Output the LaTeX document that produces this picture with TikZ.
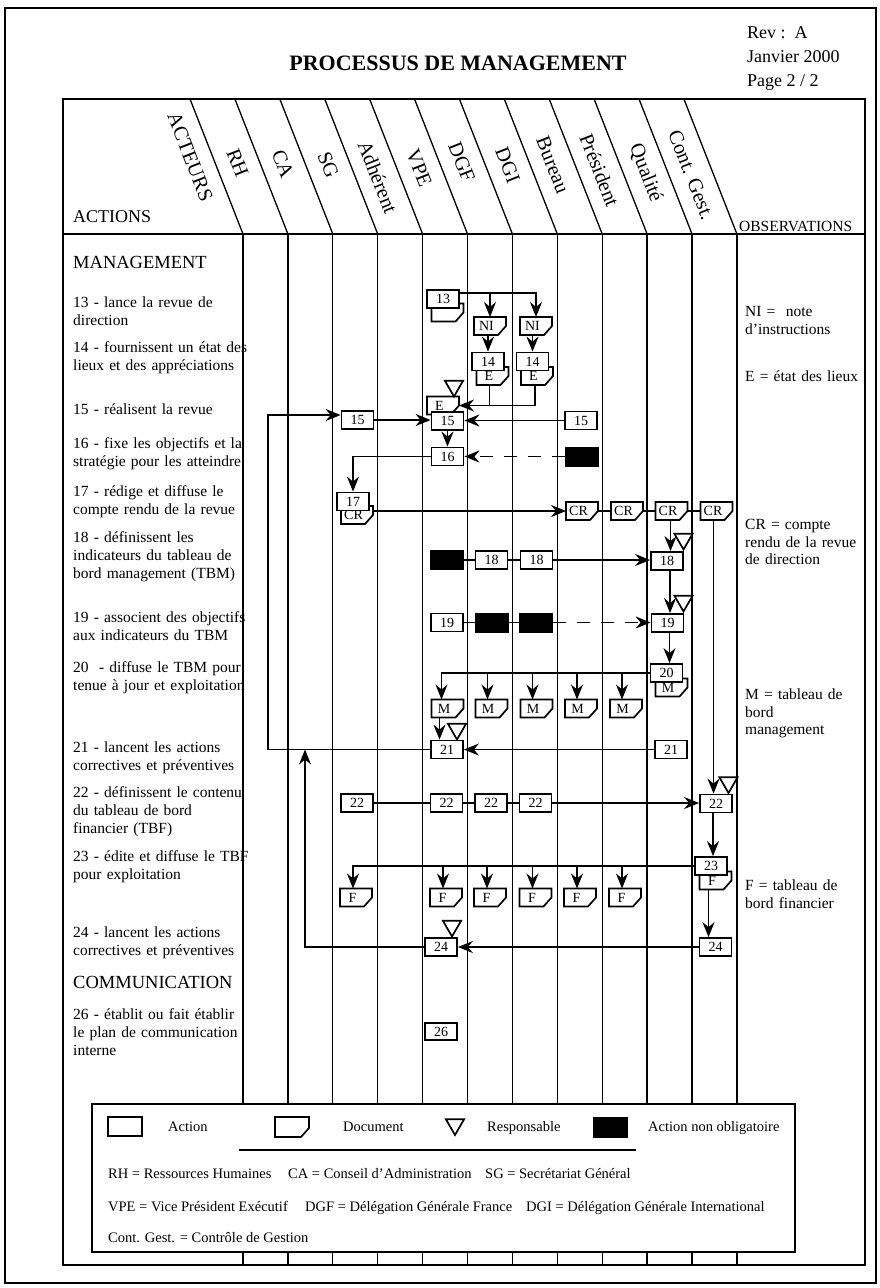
\documentclass[tikz,border=0pt]{standalone}
\usepackage{fontspec}
\setmainfont{Liberation Serif}
\usetikzlibrary{arrows.meta,shapes.geometric}
\makeatletter
% document symbol: rectangle with the lower right corner cut off
\pgfdeclareshape{docshape}{%
  \inheritsavedanchors[from=rectangle]%
  \inheritanchorborder[from=rectangle]%
  \inheritanchor[from=rectangle]{center}%
  \inheritanchor[from=rectangle]{north}%
  \inheritanchor[from=rectangle]{south}%
  \inheritanchor[from=rectangle]{east}%
  \inheritanchor[from=rectangle]{west}%
  \inheritanchor[from=rectangle]{north east}%
  \inheritanchor[from=rectangle]{north west}%
  \inheritanchor[from=rectangle]{south east}%
  \inheritanchor[from=rectangle]{south west}%
  \backgroundpath{%
    \southwest \edef\dc@xa{\the\pgf@x}\edef\dc@ya{\the\pgf@y}%
    \northeast \edef\dc@xb{\the\pgf@x}\edef\dc@yb{\the\pgf@y}%
    \pgfpathmoveto{\pgfqpoint{\dc@xa}{\dc@ya}}%
    \pgfpathlineto{\pgfqpoint{\dc@xa}{\dc@yb}}%
    \pgfpathlineto{\pgfqpoint{\dc@xb}{\dc@yb}}%
    \pgfpathlineto{\pgfpointadd{\pgfqpoint{\dc@xb}{\dc@ya}}{\pgfqpoint{0pt}{9pt}}}%
    \pgfpathlineto{\pgfpointadd{\pgfqpoint{\dc@xb}{\dc@ya}}{\pgfqpoint{-8pt}{0pt}}}%
    \pgfpathclose
  }%
}
\makeatother
\begin{document}
\begin{tikzpicture}[x=1pt,y=-1pt,
  act/.style={draw,line width=1.8pt,fill=white,minimum width=32pt,minimum height=18pt,inner sep=0pt,font=\fontsize{14}{14}\selectfont},
  doc/.style={shape=docshape,draw,line width=1.7pt,fill=white,minimum width=32pt,minimum height=18pt,inner sep=0pt,outer sep=0pt,font=\fontsize{14}{14}\selectfont,execute at end node={\kern7pt}},
  blk/.style={draw,line width=1pt,fill=black,minimum width=33pt,minimum height=19pt,inner sep=0pt},
  resp/.style={regular polygon,regular polygon sides=3,shape border rotate=180,draw,line width=1.7pt,fill=white,minimum size=21pt,inner sep=0pt},
  lnk/.style={line width=1.4pt},
  arr/.style={line width=1.4pt,-{Stealth[length=15pt,width=12pt,inset=5pt]}},
  dsh/.style={dash pattern=on 13pt off 11pt},
  colline/.style={line width=1.3pt},
  border/.style={line width=2.6pt},
  desc/.style={anchor=base west,inner sep=0pt,align=left,text width=190pt,font=\fontsize{15.5}{18}\selectfont},
  obs/.style={anchor=base west,inner sep=0pt,align=left,text width=125pt,font=\fontsize{15.5}{17.5}\selectfont},
  sect/.style={anchor=base west,inner sep=0pt,font=\fontsize{18.5}{20}\selectfont},
  hdr/.style={rotate=-68.6,inner sep=0pt,font=\fontsize{20.5}{20.5}\selectfont},
  leg/.style={anchor=base west,inner sep=0pt,font=\fontsize{14.5}{16}\selectfont}
]
\useasboundingbox (0,0) rectangle (880,1288);
\fill[white] (0,0) rectangle (880,1288);
\draw[line width=2pt] (5,8) rectangle (876,1283);

% page heading
\node[anchor=base,inner sep=0pt,font=\bfseries\fontsize{22}{22}\selectfont] (title) at (458,70) {PROCESSUS DE MANAGEMENT};
\node[anchor=base west,inner sep=0pt,font=\fontsize{18}{18}\selectfont] (rev) at (747,38) {Rev~:~~A};
\node[anchor=base west,inner sep=0pt,font=\fontsize{18}{18}\selectfont] (date) at (747,62) {Janvier 2000};
\node[anchor=base west,inner sep=0pt,font=\fontsize{18}{18}\selectfont] (page) at (747,86) {Page 2 / 2};

% grid: lanes and slanted header
\foreach \i in {0,...,11}{
  \draw[colline] ({243+44.9*\i},234) -- ({243+44.9*\i},1265);
  \draw[colline] ({190+44.9*\i},99) -- ({243+44.9*\i},234);
}
\draw[border] (63,99) rectangle (865,1265);
\draw[border] (63,234) -- (865,234);

\node[anchor=base west,inner sep=0pt,font=\fontsize{18}{18}\selectfont] (actions) at (73,222) {ACTIONS};
\node[anchor=base west,inner sep=0pt,font=\fontsize{15.5}{15.5}\selectfont] (observ) at (739,231.5) {OBSERVATIONS};
\node[hdr] (hAct) at (190.3,157) {ACTEURS};
\node[hdr] (hRH) at (237.6,163) {RH};
\node[hdr] (hCA) at (282.9,164) {CA};
\node[hdr] (hSG) at (328.2,165) {SG};
\node[hdr] (hAdh) at (377.8,177) {Adhérent};
\node[hdr] (hVPE) at (419.1,168) {VPE};
\node[hdr] (hDGF) at (461.7,162) {DGF};
\node[hdr] (hDGI) at (507.8,165) {DGI};
\node[hdr] (hBur) at (552.7,165) {Bureau};
\node[hdr] (hPre) at (599.5,170) {Président};
\node[hdr] (hQua) at (645.6,173) {Qualité};
\node[hdr] (hCG) at (691.3,175) {Cont. Gest.};

% action texts
\node[sect] (sMan) at (73,268) {MANAGEMENT};
\node[desc] (t13) at (73,307.5) {13 - lance la revue de\\direction};
\node[desc] (t14) at (73,352.5) {14 - fournissent un état des\\lieux et des appréciations};
\node[desc] (t15) at (73,414.5) {15 - réalisent la revue};
\node[desc] (t16) at (73,448.5) {16 - fixe les objectifs et la\\stratégie pour les atteindre};
\node[desc] (t17) at (73,496.5) {17 - rédige et diffuse le\\compte rendu de la revue};
\node[desc] (t18) at (73,542.5) {18 - définissent les\\indicateurs du tableau de\\bord management (TBM)};
\node[desc] (t19) at (73,622.5) {19 - associent des objectifs\\aux indicateurs du TBM};
\node[desc] (t20) at (73,672.5) {20~ - diffuse le TBM pour\\tenue à jour et exploitation};
\node[desc] (t21) at (73,752.5) {21 - lancent les actions\\correctives et préventives};
\node[desc] (t22) at (73,797.5) {22 - définissent le contenu\\du tableau de bord\\financier (TBF)};
\node[desc] (t23) at (73,861.5) {23 - édite et diffuse le TBF\\pour exploitation};
\node[desc] (t24) at (73,937.5) {24 - lancent les actions\\correctives et préventives};
\node[sect] (sCom) at (73,988) {COMMUNICATION};
\node[desc] (t26) at (73,1019.5) {26 - établit ou fait établir\\le plan de communication\\interne};

% observations
\node[obs] (oNI) at (745,316.5) {NI =~ note\\d'instructions};
\node[obs] (oE) at (745,381.5) {E = état des lieux};
\node[obs] (oCR) at (745,529.5) {CR = compte\\rendu de la revue\\de direction};
\node[obs] (oM) at (745,699.5) {M = tableau de\\bord\\management};
\node[obs] (oF) at (745,890.5) {F = tableau de\\bord financier};

% step 13 and 14
\node[doc] (d13) at (447.5,312.5) {};
\node[act] (a13) at (443,299) {13};
\node[doc] (n1) at (490,326) {NI};
\node[doc] (n2) at (536,326) {NI};
\node[doc] (e14a) at (492.5,376) {E};
\node[act] (a14a) at (488,361.5) {14};
\node[doc] (e14b) at (537,376) {E};
\node[act] (a14b) at (532.5,361.5) {14};

% step 15
\node[doc] (e15) at (443,405.5) {E};
\node[act] (a15) at (447.5,421) {15};
\node[resp] (r15) at (454,386) {};
\node[act] (a15s) at (357.5,420) {15};
\node[act] (a15b) at (581,420.5) {15};

% step 16 and 17
\node[act] (a16) at (447.5,456.5) {16};
\node[blk] (b16) at (581.5,456.5) {};
\node[doc] (d17) at (357,515) {CR};
\node[act] (a17) at (353,501.5) {17};
\node[doc] (cr1) at (582,511) {CR};
\node[doc] (cr2) at (627,511) {CR};
\node[doc] (cr3) at (671.5,511) {CR};
\node[doc] (cr4) at (716.5,511) {CR};

% step 18 and 19
\node[blk] (b18) at (446.5,560) {};
\node[act] (a18f) at (491.5,560) {18};
\node[act] (a18g) at (536.5,560) {18};
\node[act] (a18q) at (667,561) {18};
\node[resp] (r18) at (683.5,539) {};
\node[act] (a19) at (447,622.5) {19};
\node[blk] (b19f) at (491.5,622.5) {};
\node[blk] (b19g) at (536,622.5) {};
\node[act] (a19q) at (667.5,623) {19};
\node[resp] (r19) at (683.5,601) {};

% step 20 and 21
\node[doc] (dm20) at (671.5,687.5) {M};
\node[act] (a20) at (666.5,673) {20};
\node[doc] (m1) at (447.5,708.5) {M};
\node[doc] (m2) at (491.5,708.5) {M};
\node[doc] (m3) at (536.5,708.5) {M};
\node[doc] (m4) at (581,708.5) {M};
\node[doc] (m5) at (626,708.5) {M};
\node[act] (a21) at (447,749.5) {21};
\node[resp] (r21) at (457,729) {};
\node[act] (a21q) at (671,749.5) {21};

% step 22 and 23
\node[act] (a22s) at (357,803) {22};
\node[act] (a22v) at (446.5,803) {22};
\node[act] (a22f) at (491,803) {22};
\node[act] (a22g) at (535.5,803) {22};
\node[act] (a22c) at (716,803.5) {22};
\node[resp] (r22) at (728.5,782.5) {};
\node[doc] (df23) at (715.5,880.5) {F};
\node[act] (a23) at (711,866) {23};
\node[doc] (f1) at (356,897.5) {F};
\node[doc] (f2) at (446,897.5) {F};
\node[doc] (f3) at (490,897.5) {F};
\node[doc] (f4) at (535.5,897.5) {F};
\node[doc] (f5) at (580,897.5) {F};
\node[doc] (f6) at (625,897.5) {F};

% step 24 and 26
\node[act] (a24) at (441,947) {24};
\node[resp] (r24) at (452,926) {};
\node[act] (a24c) at (715.5,947) {24};
\node[act,minimum height=17pt] (a26) at (441,1031.5) {26};

% connectors
\coordinate (rhx) at (268,0);
\coordinate (cax) at (305,0);
\draw[arr] ([yshift=-4pt]a13.north east) -| (n1.north);
\draw[arr] ([yshift=-4pt]a13.north east) -| (n2.north);
\draw[arr] (n1.south -| a14a.north) -- (a14a.north);
\draw[arr] (n2.south -| a14b.north) -- (a14b.north);
\draw[lnk] ([xshift=-3pt]e14a.south) -- ([xshift=-3pt]e14a.south |- e15.east);
\draw[arr] ([xshift=-2pt]e14b.south) |- (e15.east);
\draw[arr] (a15s.east) -- (a15s.east -| a15.west);
\draw[arr] (a15b.west) -- (a15b.west -| a15.east);
\draw[arr] (a15.south) -- (a16.north);
\draw[arr,dsh] (b16.west) -- (a16.east);
\draw[arr] (a16.west) -| (a17.north);
\draw[arr] (d17.east |- cr1.west) -- (cr1.west);
\draw[lnk] (cr1.east) -- (cr2.west);
\draw[lnk] (cr2.east) -- (cr3.west);
\draw[lnk] (cr3.east) -- (cr4.west);
\draw[arr] ([xshift=-1pt]cr3.south) -- ([xshift=-1pt]cr3.south |- a18q.north);
\draw[arr] ([xshift=-3pt]cr4.south) -- ([xshift=-3pt]cr4.south |- a22c.north);
\draw[lnk] (b18.east) -- (a18f.west);
\draw[lnk] (a18f.east) -- (a18g.west);
\draw[arr] (a18g.east) -- (a18g.east -| a18q.west);
\draw[arr] ([xshift=3pt]a18q.south) -- ([xshift=3pt]a18q.south |- a19q.north);
\draw[lnk] (a19.east) -- (b19f.west);
\draw[lnk] (b19f.east) -- (b19g.west);
\draw[arr,dsh] (b19g.east) -- (b19g.east -| a19q.west);
\draw[arr] ([xshift=2pt]a19q.south) -- ([xshift=2pt]a19q.south |- a20.north);
\draw[arr] (a20.west) -| ([xshift=-6pt]m1.north);
\draw[arr] (a20.west) -| ([xshift=-4pt]m2.north);
\draw[arr] (a20.west) -| ([xshift=-4pt]m3.north);
\draw[arr] (a20.west) -| ([xshift=-4pt]m4.north);
\draw[arr] (a20.west) -| ([xshift=-4pt]m5.north);
\draw[arr] ([xshift=-8pt]m1.south) -- ([xshift=-8pt]m1.south |- a21.north);
\draw[arr] (a21q.west) -- (a21q.west -| a21.east);
\draw[arr] (a21.west) -- (a21.west -| rhx) |- ([yshift=5pt]a15s.west);
\draw[arr] (a24.west) -| (cax |- a21.west);
\draw[lnk] (a22s.east) -- (a22v.west);
\draw[lnk] (a22v.east) -- (a22f.west);
\draw[lnk] (a22f.east) -- (a22g.west);
\draw[arr] (a22g.east) -- (a22g.east -| a22c.west);
\draw[arr] ([xshift=-3pt]a22c.south) -- ([xshift=-3pt]a22c.south |- a23.north);
\draw[arr] (a23.west) -| ([xshift=-3pt]f1.north);
\draw[arr] (a23.west) -| ([xshift=-3pt]f2.north);
\draw[arr] (a23.west) -| ([xshift=-3pt]f3.north);
\draw[arr] (a23.west) -| ([xshift=-3pt]f4.north);
\draw[arr] (a23.west) -| ([xshift=-3pt]f5.north);
\draw[arr] (a23.west) -| ([xshift=-3pt]f6.north);
\draw[arr] ([xshift=-7pt]df23.south) -- ([xshift=-7pt]df23.south |- a24c.north);
\draw[arr] (a24c.west) -- (a24c.west -| a24.east);

% legend
\node[draw,fill=white,line width=1.8pt,minimum width=703pt,minimum height=148pt,inner sep=0pt] (legend) at (443.5,1178) {};
\node[act,minimum width=34pt,minimum height=19pt] (lgAct) at (125,1126.5) {};
\node[leg] (lgActT) at (168,1131.5) {Action};
\node[doc,minimum width=34pt,minimum height=20pt] (lgDoc) at (292,1127) {};
\node[leg] (lgDocT) at (343,1131.5) {Document};
\node[resp] (lgResp) at (455,1124.5) {};
\node[leg] (lgRespT) at (487,1131.5) {Responsable};
\node[blk,minimum width=34pt,minimum height=20pt] (lgBlk) at (610,1127) {};
\node[leg] (lgBlkT) at (648,1131.5) {Action non obligatoire};
\coordinate (ruleA) at (239,1150);
\coordinate (ruleB) at (636,1150);
\draw[line width=2pt] (ruleA) -- (ruleB);
\node[leg] (lgRH) at (108,1178) {RH = Ressources Humaines};
\node[leg] (lgCA) at (288,1178) {CA = Conseil d'Administration};
\node[leg] (lgSG) at (485,1178) {SG = Secrétariat Général};
\node[leg] (lgVPE) at (108,1211) {VPE = Vice Président Exécutif};
\node[leg] (lgDGF) at (305,1211) {DGF = Délégation Générale France};
\node[leg] (lgDGI) at (526,1211) {DGI = Délégation Générale International};
\node[leg] (lgCG) at (108,1242) {Cont. Gest. = Contrôle de Gestion};
\end{tikzpicture}
\end{document}
